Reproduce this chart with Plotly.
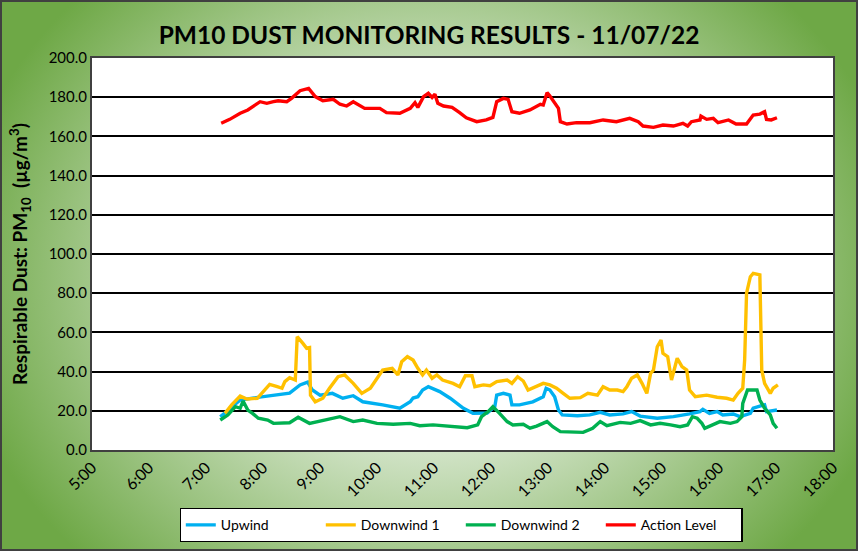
import base64
import plotly.graph_objects as go

DAY = "2022-07-11 "

upwind_t = ["07:15","07:25","07:36","07:49","08:02","08:13","08:28","08:39","08:47","08:52","09:00","09:13","09:24","09:35","09:45","10:06","10:24","10:35","10:38","10:43","10:48","10:54","10:59","11:06","11:17","11:31","11:41","11:56","12:04","12:06","12:13","12:20","12:22","12:30","12:44","12:55","12:58","13:02","13:07","13:11","13:15","13:31","13:44","13:55","14:05","14:19","14:28","14:37","14:55","15:12","15:29","15:40","15:43","15:50","15:58","16:04","16:15","16:22","16:33","16:36","16:43","16:48","16:50","17:01"]
upwind_v = [17.0,21.3,25.5,26.5,27.2,28.0,29.0,33.2,34.6,30.6,28.0,28.9,26.4,27.7,24.6,23.0,21.3,24.6,26.5,27.2,30.6,32.3,31.1,29.8,26.4,21.3,18.7,18.9,22.1,28.0,28.9,28.0,23.0,23.0,24.6,27.2,31.5,30.6,27.2,20.4,17.9,17.5,17.9,19.2,17.9,18.4,19.6,17.3,16.2,17.0,18.4,19.6,20.8,18.7,19.6,17.9,18.4,17.0,18.7,21.3,22.4,23.0,19.6,20.4]

down1_t = ["07:20","07:27","07:36","07:43","07:54","08:00","08:07","08:15","08:20","08:23","08:28","08:34","08:36","08:42","08:46","08:49","08:50","08:55","09:03","09:10","09:19","09:26","09:35","09:44","09:53","10:06","10:16","10:22","10:26","10:32","10:38","10:43","10:48","10:52","10:58","11:03","11:09","11:20","11:27","11:33","11:40","11:43","11:52","11:59","12:06","12:17","12:22","12:28","12:34","12:39","12:48","12:55","13:02","13:09","13:16","13:23","13:34","13:42","13:52","13:58","14:05","14:13","14:19","14:23","14:28","14:34","14:39","14:44","14:48","14:51","14:55","14:59","15:01","15:06","15:10","15:14","15:16","15:21","15:26","15:29","15:35","15:47","15:58","16:08","16:15","16:20","16:25","16:27","16:29","16:33","16:36","16:43","16:45","16:48","16:54","16:57","17:02"]
down1_v = [18.7,23.0,27.5,26.0,26.4,29.8,33.5,32.3,31.5,34.9,36.9,35.7,57.8,54.4,51.9,52.2,28.0,24.6,26.4,31.5,37.4,38.3,34.0,28.9,31.5,40.8,41.7,38.3,45.0,47.6,45.9,41.7,38.3,40.8,36.6,38.3,35.7,34.0,32.3,37.9,37.9,32.3,33.2,32.8,34.9,35.7,34.0,37.4,35.2,30.6,32.3,34.0,33.2,31.5,28.9,26.4,26.7,28.9,28.0,32.3,30.6,30.6,29.8,32.3,36.6,38.3,34.0,28.9,39.1,40.8,52.7,56.1,49.3,47.6,35.7,44.2,46.8,42.5,40.8,30.6,27.2,28.0,26.9,26.4,25.5,28.9,31.5,45.9,80.0,88.4,90.1,89.3,40.8,34.0,28.9,31.5,33.2]

down2_t = ["07:15","07:23","07:31","07:36","07:39","07:44","07:49","07:55","08:05","08:11","08:28","08:37","08:49","09:07","09:21","09:35","09:45","10:00","10:17","10:35","10:45","10:59","11:17","11:35","11:46","11:50","11:57","12:02","12:09","12:17","12:23","12:34","12:41","12:48","12:59","13:05","13:13","13:26","13:37","13:47","13:55","14:02","14:16","14:27","14:37","14:48","14:58","15:09","15:19","15:27","15:32","15:37","15:42","15:45","15:53","16:01","16:12","16:19","16:24","16:25","16:30","16:40","16:43","16:48","16:54","16:57","17:01"]
down2_v = [15.3,17.9,22.1,21.3,25.0,20.4,18.7,16.2,15.3,13.6,13.9,16.7,13.6,15.3,17.0,14.5,15.3,13.6,13.1,13.6,12.4,12.8,11.9,11.4,12.8,17.0,19.6,22.1,18.7,14.5,12.8,13.1,11.1,12.2,14.5,11.9,9.4,9.4,9.0,11.1,14.5,12.4,14.1,13.6,15.0,12.8,13.6,12.8,11.9,12.8,17.0,16.2,13.6,11.1,12.8,14.5,13.6,14.5,17.0,23.8,30.6,30.6,25.5,21.3,17.9,13.6,11.1]

action_t = ["07:16","07:25","07:36","07:44","07:57","08:04","08:11","08:16","08:25","08:30","08:39","08:48","08:55","09:03","09:14","09:21","09:28","09:35","09:47","10:03","10:10","10:24","10:35","10:40","10:43","10:49","10:54","10:58","11:01","11:04","11:10","11:19","11:27","11:34","11:45","11:55","12:02","12:06","12:13","12:18","12:22","12:30","12:41","12:52","12:55","12:59","13:02","13:07","13:11","13:13","13:20","13:30","13:44","13:58","14:12","14:26","14:35","14:40","14:51","15:01","15:12","15:22","15:27","15:31","15:40","15:41","15:47","15:54","15:59","16:10","16:18","16:29","16:36","16:43","16:48","16:50","16:55","17:01"]
action_v = [166.7,168.7,171.8,173.5,177.7,176.9,177.7,178.2,177.7,179.4,183.3,184.5,180.3,178.2,178.9,176.4,175.5,177.7,174.3,174.3,172.1,171.8,174.3,177.2,174.8,180.3,182.0,179.9,181.5,176.9,175.5,174.8,172.1,169.5,167.5,168.4,169.7,177.7,179.4,178.9,172.6,171.8,173.5,176.4,176.0,182.3,180.6,176.9,174.3,167.5,166.3,167.0,167.0,168.4,167.5,169.2,167.5,165.3,164.6,165.8,165.3,166.7,165.3,167.5,168.4,170.4,168.7,169.2,167.0,168.4,166.3,166.3,170.9,171.4,172.6,168.7,168.4,169.5]

series = [
    ("Upwind", upwind_t, upwind_v, "#00B0F0"),
    ("Downwind 1", down1_t, down1_v, "#FFC000"),
    ("Downwind 2", down2_t, down2_v, "#00B050"),
    ("Action Level", action_t, action_v, "#FF0000"),
]

x_ticks = ["05:00","06:00","07:00","08:00","09:00","10:00","11:00","12:00","13:00","14:00","15:00","16:00","17:00","18:00"]
x_ticklabels = ["5:00","6:00","7:00","8:00","9:00","10:00","11:00","12:00","13:00","14:00","15:00","16:00","17:00","18:00"]

W, H = 858, 551
ML, MR, MT, MB = 92, 25, 58, 101
PW, PH = W - ML - MR, H - MT - MB

svg = f'''<svg xmlns="http://www.w3.org/2000/svg" width="{W}" height="{H}" viewBox="0 0 {W} {H}" preserveAspectRatio="none">
<defs><radialGradient id="g" gradientUnits="userSpaceOnUse" cx="430" cy="275" r="480" gradientTransform="translate(430 275) scale(1 0.85) translate(-430 -275)">
<stop offset="0" stop-color="#eef4ea"/><stop offset="0.4" stop-color="#d6e6cd"/><stop offset="1" stop-color="#6ea846"/></radialGradient></defs>
<rect x="0" y="0" width="{W}" height="{H}" fill="url(#g)"/>
<rect x="1" y="1" width="{W-2}" height="{H-2}" fill="none" stroke="#404040" stroke-width="2"/>
</svg>'''
src = "data:image/svg+xml;base64," + base64.b64encode(svg.encode()).decode()

fig = go.Figure()
for name, ts, vs, col in series:
    fig.add_trace(go.Scatter(
        x=[DAY + t for t in ts], y=vs, name=name, mode="lines",
        line=dict(color=col, width=3.4),
    ))

fig.update_layout(
    width=W, height=H,
    margin=dict(l=ML, r=MR, t=MT, b=MB, autoexpand=False),
    paper_bgcolor="#ffffff",
    plot_bgcolor="rgba(0,0,0,0)",
    font=dict(family="Lato, Carlito, Calibri, sans-serif", color="#000000", size=14),
    title=dict(text="<b>PM10 DUST MONITORING RESULTS - 11/07/22</b>",
               x=0.5, xref="container", xanchor="center", y=1 - 35 / H, yref="container", yanchor="middle",
               font=dict(size=24.5, family="Lato, sans-serif", color="#000000")),
    images=[dict(source=src, xref="paper", yref="paper",
                 x=-ML / PW, y=1 + MT / PH, sizex=W / PW, sizey=H / PH,
                 xanchor="left", yanchor="top", sizing="stretch", layer="below")],
    shapes=[dict(type="rect", xref="paper", yref="paper", x0=0, x1=1, y0=0, y1=1,
                 fillcolor="#ffffff", line=dict(width=0), layer="below")],
    showlegend=True,
    legend=dict(orientation="h", x=(461 - ML) / PW, xanchor="center", y=(450 - 525) / PH, yanchor="middle",
                bgcolor="#ffffff", bordercolor="#000000", borderwidth=1.3,
                font=dict(size=14, family="Lato, sans-serif"), entrywidth=95, itemwidth=30),
    xaxis=dict(
        type="date",
        range=[DAY + "05:00", DAY + "18:00"],
        tickvals=[DAY + t for t in x_ticks], ticktext=x_ticklabels,
        tickangle=-45, showgrid=False, zeroline=False,
        showline=True, linecolor="#404040", linewidth=2, mirror=True,
        ticks="", tickfont=dict(size=16),
    ),
    yaxis=dict(
        range=[0, 200], dtick=20, tickformat=".1f",
        showgrid=True, gridcolor="#000000", gridwidth=1.5,
        zeroline=False, showline=True, linecolor="#404040", linewidth=2, mirror=True,
        ticks="", tickfont=dict(size=15),
        title=dict(text="<b>Respirable Dust: PM<sub>10</sub>  (µg/m<sup>3</sup>)</b>",
                   font=dict(size=19), standoff=16),
    ),
)

fig.write_html("out.html", config={"displayModeBar": False},
               post_script="document.body.style.margin='0';document.body.style.overflow='hidden';")
